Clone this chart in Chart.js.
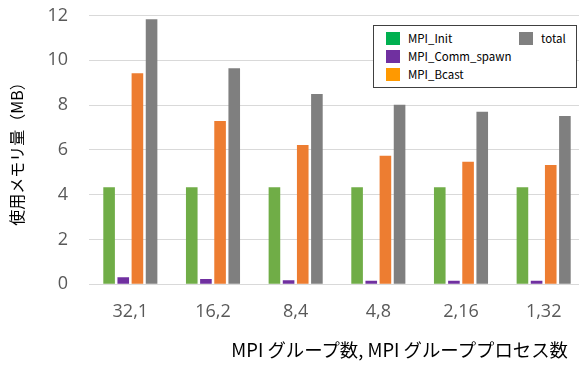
<!DOCTYPE html>
<html>
<head>
<meta charset="utf-8">
<script src="https://cdn.jsdelivr.net/npm/chart.js@4"></script>
<style>
  html, body { margin: 0; padding: 0; background: #fff; overflow: hidden; }
  #wrap { position: relative; width: 579px; height: 367px; overflow: hidden; }
  #box { position: absolute; left: 0; top: 0; width: 586px; height: 367px; }
  #legend {
    position: absolute; left: 373px; top: 25px; width: 204px; height: 63px;
    box-sizing: border-box; border: 1px solid #404040; background: #fff;
    padding: 3px 0 0 12px;
    display: grid; grid-template-rows: repeat(3, 18px); grid-template-columns: 133px auto;
    grid-auto-flow: column;
    font-family: "Noto Sans CJK JP", sans-serif; font-size: 11.5px; color: #000;
  }
  #legend .item { display: flex; align-items: center; white-space: nowrap; }
  #legend .color-box { width: 14px; height: 13px; margin-right: 8px; }
  #xtitle {
    position: absolute; right: 11px; top: 339px; line-height: 20px;
    font-family: "Noto Sans CJK JP", sans-serif; font-size: 18.4px; color: #000; white-space: nowrap;
  }
</style>
</head>
<body>
<div id="wrap">
  <div id="box"><canvas id="chart"></canvas></div>
  <div id="legend"></div>
  <div id="xtitle">MPI グループ数, MPI グループプロセス数</div>
</div>
<script>
// --- DATA ---
const labels = ["32,1", "16,2", "8,4", "4,8", "2,16", "1,32"];

const mpiInit = [4.33, 4.33, 4.33, 4.33, 4.33, 4.33];
const mpiCommSpawn = [0.31, 0.24, 0.18, 0.16, 0.16, 0.16];
const mpiBcast = [9.42, 7.29, 6.22, 5.74, 5.47, 5.33];
const total = [11.83, 9.64, 8.5, 8.02, 7.7, 7.51];

const names = ["MPI_Init", "MPI_Comm_spawn", "MPI_Bcast", "total"];
const barColors = ["#70ad47", "#7030a0", "#ed7d31", "#7f7f7f"];
const legendColors = ["#00b050", "#7030a0", "#ff9900", "#808080"];

const series = [mpiInit, mpiCommSpawn, mpiBcast, total];

// --- CHART ---
new Chart(document.getElementById("chart"), {
  type: "bar",
  data: {
    labels: labels,
    datasets: series.map((values, i) => ({
      label: names[i],
      data: values,
      backgroundColor: barColors[i],
      categoryPercentage: 0.685,
      barPercentage: 0.82
    }))
  },
  options: {
    responsive: true,
    maintainAspectRatio: false,
    animation: false,
    layout: { padding: { left: 3, right: 1, top: 15.5, bottom: 32.7 } },
    plugins: {
      legend: { display: false },
      tooltip: { enabled: false }
    },
    scales: {
      x: {
        afterFit: scale => { scale.height = 50; },
        grid: { display: false, drawTicks: false },
        border: { display: false },
        ticks: {
          color: "#595959",
          padding: 17,
          font: { family: "'Open Sans'", size: 18 }
        }
      },
      y: {
        min: 0,
        max: 12,
        // fixed width, and no extra room above/below for the tick labels
        afterFit: scale => {
          scale.width = 86;
          scale.paddingTop = 0;
          scale.paddingBottom = 0;
        },
        grid: { color: "#d9d9d9", lineWidth: 1, drawTicks: false },
        border: { display: false },
        ticks: {
          stepSize: 2,
          color: "#595959",
          padding: 21,
          font: { family: "'Open Sans'", size: 18 }
        },
        title: {
          display: true,
          text: "使用メモリ量（MB）",
          color: "#000",
          padding: { top: 4, bottom: 4 },
          font: { family: "'Noto Sans CJK JP'", size: 16 }
        }
      }
    }
  }
});

// --- LEGEND ---
const legendBox = document.getElementById("legend");
names.forEach((name, i) => {
  const item = document.createElement("div");
  item.className = "item";
  item.innerHTML = `<div class="color-box" style="background:${legendColors[i]}"></div>${name}`;
  legendBox.appendChild(item);
});
</script>
</body>
</html>
